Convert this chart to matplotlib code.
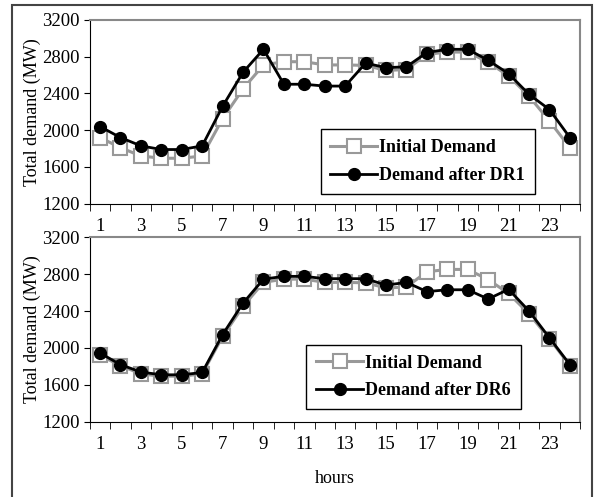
import numpy as np
import matplotlib
matplotlib.use("Agg")
import matplotlib.pyplot as plt
from matplotlib.patches import Rectangle

# hourly demand (MW)
hours = np.arange(1, 25)
initial = [1920, 1810, 1720, 1695, 1695, 1720, 2125, 2450, 2710, 2745, 2745, 2710,
           2710, 2705, 2650, 2660, 2825, 2850, 2850, 2740, 2590, 2370, 2100, 1810]
dr1 = [2040, 1920, 1830, 1790, 1790, 1830, 2260, 2630, 2880, 2500, 2500, 2480,
       2480, 2730, 2680, 2690, 2845, 2880, 2880, 2760, 2615, 2390, 2225, 1920]
dr6 = [1945, 1820, 1740, 1710, 1710, 1735, 2145, 2485, 2745, 2775, 2775, 2750,
       2750, 2750, 2680, 2710, 2610, 2630, 2630, 2530, 2635, 2400, 2110, 1820]

plt.rcParams['font.family'] = 'Liberation Serif'
plt.rcParams['font.size'] = 13.5

fig = plt.figure(figsize=(6.03, 4.97), dpi=100)
fig.patches.append(Rectangle((0.02, -0.1), 0.962, 1.09, transform=fig.transFigure,
                             fill=False, ec='#444444', lw=1.5))

gray = '#999999'


def panel(rect, after, lab, legpos, xlabel=None):
    ax = fig.add_axes(rect)
    ax.plot(hours, initial, color=gray, lw=2.2, marker='s', ms=10,
            mfc='white', mec=gray, mew=1.5, label='Initial Demand')
    ax.plot(hours, after, color='black', lw=2, marker='o', ms=8.5,
            mfc='black', mec='black', label=lab)
    ax.set_xlim(0.5, 24.5)
    ax.set_ylim(1200, 3200)
    ax.set_yticks([1200, 1600, 2000, 2400, 2800, 3200])
    ax.set_xticks(np.arange(1, 25, 2))
    ax.set_xticks(np.arange(0.5, 25, 1), minor=True)
    ax.tick_params(axis='x', which='major', length=0, pad=10)
    ax.tick_params(axis='x', which='minor', length=5, direction='out')
    ax.tick_params(axis='y', length=4, direction='out')
    for s in ['top', 'right']:
        ax.spines[s].set_color('#888888')
        ax.spines[s].set_linewidth(1.5)
    ax.set_ylabel('Total demand (MW)', fontsize=13)
    ax.yaxis.set_label_coords(-0.10, 0.5)
    if xlabel:
        ax.set_xlabel(xlabel, fontsize=13, labelpad=12)
    leg = ax.legend(loc='center', bbox_to_anchor=legpos, fancybox=False,
                    edgecolor='black', framealpha=1, handlelength=2.6,
                    prop={'weight': 'bold', 'size': 13}, borderpad=0.55,
                    borderaxespad=0, labelspacing=0.6, handletextpad=0.1)
    leg.get_frame().set_linewidth(1)
    leg._legend_box.sep = 0
    return ax


panel([0.149, 0.590, 0.813, 0.370], dr1, 'Demand after DR1', (0.689, 0.228))
panel([0.149, 0.151, 0.813, 0.372], dr6, 'Demand after DR6', (0.660, 0.243), xlabel='hours')

fig.savefig('out.png', dpi=100)
